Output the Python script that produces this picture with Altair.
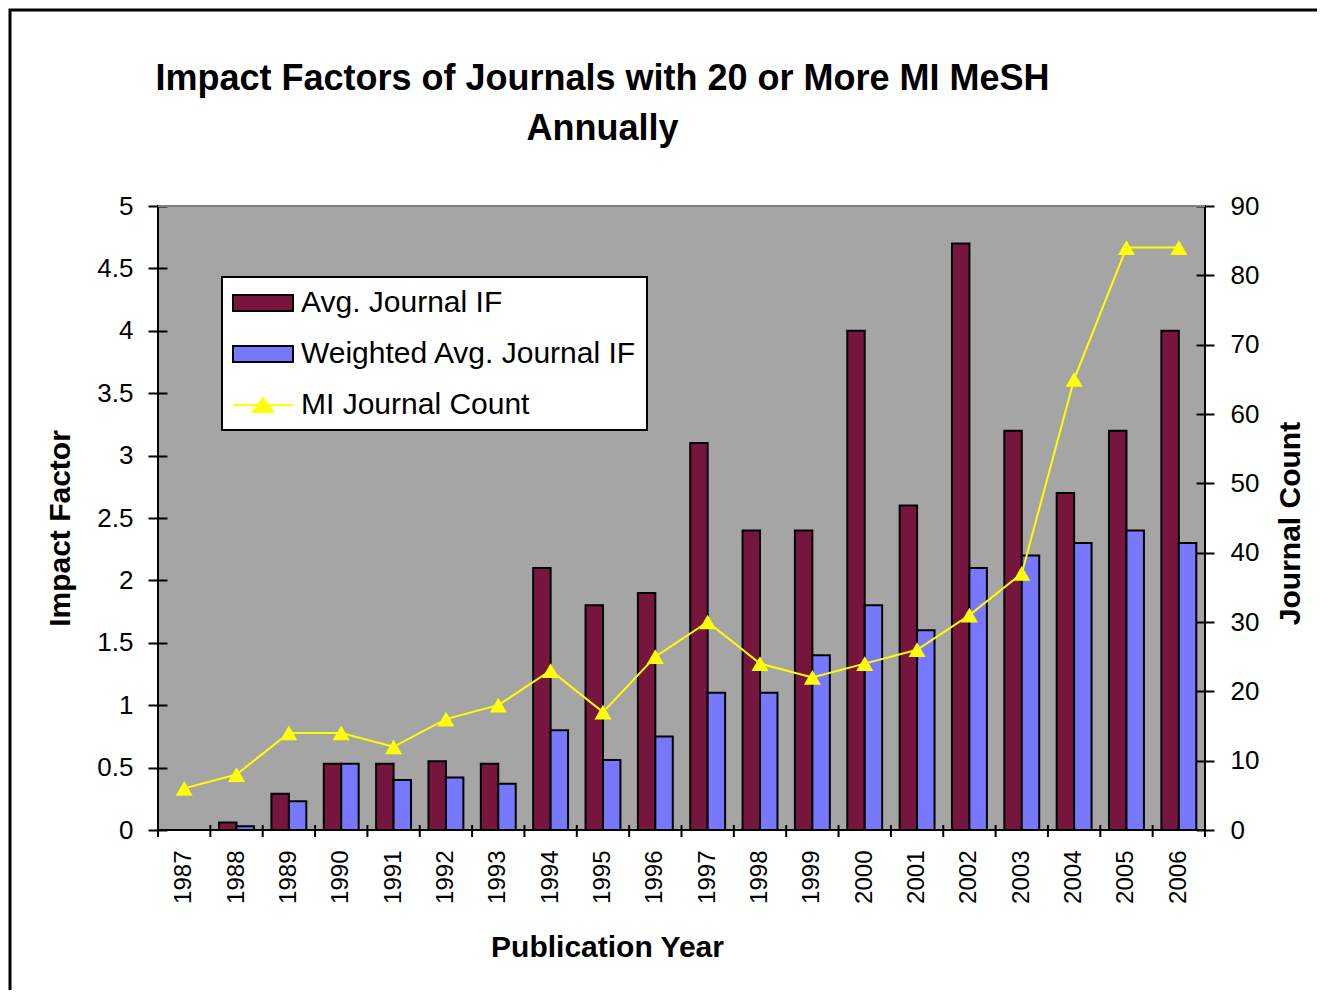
import altair as alt
import pandas as pd

# ---------------- data ----------------
YEARS = ["1987", "1988", "1989", "1990", "1991", "1992", "1993", "1994", "1995", "1996",
         "1997", "1998", "1999", "2000", "2001", "2002", "2003", "2004", "2005", "2006"]
AVG_IF = [0, 0.06, 0.29, 0.53, 0.53, 0.55, 0.53, 2.1, 1.8, 1.9,
          3.1, 2.4, 2.4, 4.0, 2.6, 4.7, 3.2, 2.7, 3.2, 4.0]
WEIGHTED_IF = [0, 0.03, 0.23, 0.53, 0.40, 0.42, 0.37, 0.8, 0.56, 0.75,
               1.1, 1.1, 1.4, 1.8, 1.6, 2.1, 2.2, 2.3, 2.4, 2.3]
JOURNAL_COUNT = [6, 8, 14, 14, 12, 16, 18, 23, 17, 25,
                 30, 24, 22, 24, 26, 31, 37, 65, 84, 84]
SERIES = ["Avg. Journal IF", "Weighted Avg. Journal IF", "MI Journal Count"]
IF_TICKS = [0, 0.5, 1, 1.5, 2, 2.5, 3, 3.5, 4, 4.5, 5]
COUNT_TICKS = [0, 10, 20, 30, 40, 50, 60, 70, 80, 90]
TITLE_LINES = ["Impact Factors of Journals with 20 or More MI MeSH", "Annually"]

# ---------------- style ----------------
W, H = 1047, 624
FONT = "Liberation Sans"
MAROON, BLUE, YELLOW, GRAY = "#76163f", "#7878ff", "#ffff00", "#a5a5a5"
RECT_PATH = "M-2,-0.53H2V0.53H-2Z"
LINE_PATH = "M-2,0H2M-0.67,0.47L0,-0.47L0.67,0.47Z"
STEP = W / len(YEARS)

bars_df = pd.DataFrame({
    "year": YEARS + YEARS,
    "series": [SERIES[0]] * len(YEARS) + [SERIES[1]] * len(YEARS),
    "value": AVG_IF + WEIGHTED_IF,
})
count_df = pd.DataFrame({"year": YEARS, "count": JOURNAL_COUNT})
legend_df = pd.DataFrame({"series": SERIES, "value": [None, None, None]})
deco_df = pd.DataFrame({"d": [1]})

x_scale = alt.Scale(domain=YEARS, paddingInner=1 / 3, paddingOuter=1 / 6)
x_axis = alt.Axis(
    ticks=False, tickSize=0, domain=False, labelAngle=270, labelAlign="right",
    labelBaseline="middle", labelPadding=20, labelFontSize=24,
    title="Publication Year", titleX=449, titleY=117, titleBaseline="middle",
    titleAlign="center",
)
x_enc = alt.X("year:N", scale=x_scale, axis=x_axis)

y_left = alt.Y(
    "value:Q",
    scale=alt.Scale(domain=[0, 5], nice=False),
    axis=alt.Axis(values=IF_TICKS, format="~g", offset=-9, tickSize=19, domain=False,
                  labelPadding=15, title="Impact Factor", titleX=-107, titleY=322,
                  titleAngle=270, titleBaseline="middle", titleAlign="center"),
)
y_right = alt.Y(
    "count:Q",
    scale=alt.Scale(domain=[0, 90], nice=False),
    axis=alt.Axis(orient="right", values=COUNT_TICKS, offset=-9, tickSize=18, domain=False,
                  labelPadding=16, title="Journal Count", titleX=94, titleY=317,
                  titleAngle=270, titleBaseline="middle", titleAlign="center"),
)

LEG = alt.Legend(
    title=None, orient="none", legendX=64, legendY=71, fillColor="white",
    strokeColor="black", padding=10, symbolSize=900,
    symbolStrokeWidth=2, symbolFillColor="black", symbolStrokeColor="black",
    symbolOpacity=1, symbolOffset=15, labelOffset=22, labelFont=FONT,
    labelFontSize=30, labelColor="black", rowPadding=20, labelLimit=0,
)
color_enc = alt.Color("series:N", scale=alt.Scale(domain=SERIES, range=[MAROON, BLUE, YELLOW]), legend=LEG)
stroke_enc = alt.Stroke("series:N", scale=alt.Scale(domain=SERIES, range=["black", "black", YELLOW]), legend=LEG)
shape_enc = alt.Shape("series:N", scale=alt.Scale(domain=SERIES, range=[RECT_PATH, RECT_PATH, LINE_PATH]), legend=LEG)

frame = alt.Chart(deco_df).mark_rect(filled=False, stroke="black", strokeWidth=3).encode(
    x=alt.value(-148), x2=alt.value(1300), y=alt.value(-196), y2=alt.value(1000))
top_edge = alt.Chart(deco_df).mark_rule(color="#7f7f7f", strokeWidth=2).encode(
    x=alt.value(0), x2=alt.value(W), y=alt.value(0))

bars = alt.Chart(bars_df).transform_filter("datum.value > 0").mark_bar(strokeWidth=2).encode(
    x=x_enc,
    xOffset=alt.XOffset("series:N", scale=alt.Scale(domain=SERIES[:2])),
    y=y_left,
    color=color_enc,
    stroke=stroke_enc,
)

xticks = alt.Chart(count_df).mark_rule(color="black", strokeWidth=2, xOffset=-STEP / 2).encode(
    x=x_enc, y=alt.value(H - 5), y2=alt.value(H + 7))
xtick_last = alt.Chart(count_df).transform_filter("datum.year == '2006'").mark_rule(
    color="black", strokeWidth=2, xOffset=STEP / 2).encode(
    x=x_enc, y=alt.value(H - 5), y2=alt.value(H + 7))

legend_layer = alt.Chart(legend_df).mark_point(filled=True, size=900).encode(
    y=y_left, color=color_enc, stroke=stroke_enc, shape=shape_enc)

line = alt.Chart(count_df).mark_line(color=YELLOW, strokeWidth=2).encode(x=x_enc, y=y_right)
pts = alt.Chart(count_df).mark_point(shape="triangle-up", filled=True, color=YELLOW,
                                     size=290, opacity=1).encode(x=x_enc, y=y_right)

left = alt.layer(frame, top_edge, bars, xticks, xtick_last, legend_layer)
right = alt.layer(line, pts)

chart = alt.layer(left, right).resolve_scale(y="independent").properties(
    width=W, height=H,
    autosize=alt.AutoSizeParams(type="none"),
    padding={"left": 150, "top": 198, "right": 112, "bottom": 160},
    title=alt.Title(TITLE_LINES, fontSize=36, font=FONT, fontWeight="bold", color="black",
                    anchor="middle", frame="group", dx=-79, offset=-139, lineHeight=50),
).configure_view(fill=GRAY, stroke="black", strokeWidth=2).configure_axis(
    labelFont=FONT, labelFontSize=26, labelColor="black", tickColor="black", tickWidth=2,
    titleFont=FONT, titleFontSize=30, titleFontWeight="bold", titleColor="black", grid=False,
).configure_legend(strokeWidth=2)

chart.save("out.html", embed_options={"renderer": "svg", "actions": False})
